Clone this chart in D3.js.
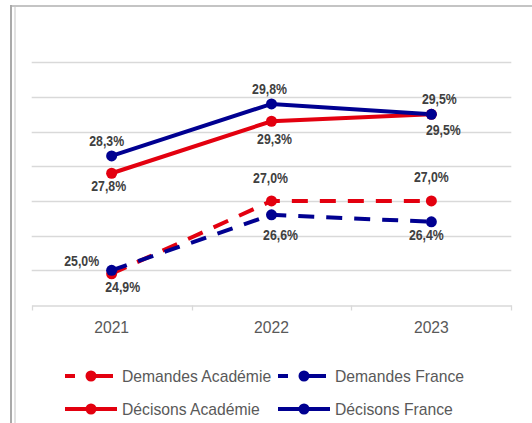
<!DOCTYPE html>
<html>
<head>
<meta charset="utf-8">
<script src="https://cdn.jsdelivr.net/npm/d3@7"></script>
<style>
    body { margin: 0; background: white; }
    svg { display: block; }
    .year-label, .legend-label { font-family: "Liberation Sans", Arial, sans-serif; font-size: 15.7px; fill: #595959; }
    .value-label { font-family: "Liberation Sans Narrow", "Arial Narrow", "Liberation Sans", sans-serif; font-size: 14px; font-weight: bold; fill: #404040; }
</style>
</head>
<body>
<svg id="chart"></svg>
<script>
// --- data ---
const years = ["2021", "2022", "2023"];
const demandesAcademie = [24.9, 27.0, 27.0];
const demandesFrance = [25.0, 26.6, 26.4];
const decisionsAcademie = [27.8, 29.3, 29.5];
const decisionsFrance = [28.3, 29.8, 29.5];
const yTicks = [25, 26, 27, 28, 29, 30, 31];

// label nudges (dx, dy from the point), hand placed like in the original
const labelNudges = {
    demandesAcademie: [[11, 13], [-1, -23], [0, -24]],
    demandesFrance: [[-30, -9], [9, 20], [-5, 13]],
    decisionsAcademie: [[-3, 13], [3, 18], [12, 16]],
    decisionsFrance: [[-5, -15], [-2, -15], [8, -15]]
};

const red = "#e3000f";
const navy = "#000091";

const series = [
    { key: "demandesAcademie", name: "Demandes Académie", values: demandesAcademie, color: red, dashed: true },
    { key: "demandesFrance", name: "Demandes France", values: demandesFrance, color: navy, dashed: true },
    { key: "decisionsAcademie", name: "Décisons Académie", values: decisionsAcademie, color: red, dashed: false },
    { key: "decisionsFrance", name: "Décisons France", values: decisionsFrance, color: navy, dashed: false }
];

const width = 532, height = 423;
const svg = d3.select("#chart").attr("width", width).attr("height", height);

svg.append("rect").attr("width", width).attr("height", height).attr("fill", "white");

// frame
svg.append("line").attr("x1", 10).attr("x2", width).attr("y1", 6).attr("y2", 6)
    .attr("stroke", "#c4c4c4").attr("stroke-width", 2);
svg.append("line").attr("x1", 11).attr("x2", 11).attr("y1", 5).attr("y2", height)
    .attr("stroke", "#aaaaaa").attr("stroke-width", 2);
svg.append("line").attr("x1", 15).attr("x2", 15).attr("y1", 7).attr("y2", height)
    .attr("stroke", "#e2e2e2").attr("stroke-width", 2);

// scales
const x = d3.scaleBand().domain(years).range([31.7, 511.3]);
const y = d3.scaleLinear().domain([24, 31]).range([305, 62.3]);
const cx = d => x(d) + x.bandwidth() / 2;

// gridlines
svg.selectAll(".grid-line")
    .data(yTicks)
    .enter()
    .append("line")
    .attr("class", "grid-line")
    .attr("x1", x.range()[0])
    .attr("x2", x.range()[1])
    .attr("y1", d => Math.round(y(d)) + 0.5)
    .attr("y2", d => Math.round(y(d)) + 0.5)
    .attr("stroke", "#d9d9d9")
    .attr("stroke-width", 1.3);

// x axis
const xAxis = d3.axisBottom(x).tickSize(0).tickFormat(d => d);
const gx = svg.append("g")
    .attr("transform", `translate(0, ${Math.round(y(24)) + 0.5})`)
    .call(xAxis);
gx.select(".domain").attr("stroke", "#d9d9d9").attr("stroke-width", 1.3);
gx.selectAll(".tick text")
    .attr("class", "year-label")
    .attr("y", 22)
    .attr("dy", "0.35em")
    .attr("fill", null);
// band boundary ticks
const bounds = years.map(d => x(d)).concat([x.range()[1]]);
gx.selectAll(".band-tick")
    .data(bounds)
    .enter()
    .append("line")
    .attr("class", "band-tick")
    .attr("x1", d => Math.round(d) + 0.5)
    .attr("x2", d => Math.round(d) + 0.5)
    .attr("y1", 0)
    .attr("y2", 5)
    .attr("stroke", "#d9d9d9")
    .attr("stroke-width", 1.3);

// lines
const line = d3.line()
    .x((d, i) => cx(years[i]))
    .y(d => y(d));

series.forEach(s => {
    svg.append("path")
        .datum(s.values)
        .attr("fill", "none")
        .attr("stroke", s.color)
        .attr("stroke-width", 4)
        .attr("stroke-dasharray", s.dashed ? "16,12" : null)
        .attr("d", line);
});

series.forEach(s => {
    svg.selectAll(null)
        .data(s.values)
        .enter()
        .append("circle")
        .attr("cx", (d, i) => cx(years[i]))
        .attr("cy", d => y(d))
        .attr("r", 5.5)
        .attr("fill", s.color);
});

// value labels (narrowed to look like Arial Narrow)
const fmt = v => d3.format(".1f")(v).replace(".", ",") + "%";
series.forEach(s => {
    svg.selectAll(null)
        .data(s.values)
        .enter()
        .append("text")
        .attr("class", "value-label")
        .attr("transform", (d, i) =>
            `translate(${cx(years[i]) + labelNudges[s.key][i][0]}, ${y(d) + labelNudges[s.key][i][1]}) scale(0.88, 1)`)
        .attr("text-anchor", "middle")
        .attr("dominant-baseline", "central")
        .text(fmt);
});

// legend
const legendCols = [65, 278];
const legendRows = [376, 409];
series.forEach((s, i) => {
    const lx = legendCols[i % 2];
    const ly = legendRows[Math.floor(i / 2)];
    const g = svg.append("g").attr("transform", `translate(${lx}, ${ly})`);
    const len = s.dashed ? 48 : 52;
    g.append("line")
        .attr("x1", 0).attr("x2", len)
        .attr("y1", 0).attr("y2", 0)
        .attr("stroke", s.color)
        .attr("stroke-width", 4)
        .attr("stroke-dasharray", s.dashed ? "10,11,27" : null);
    g.append("circle").attr("cx", 26).attr("cy", 0).attr("r", 5.5).attr("fill", s.color);
    g.append("text")
        .attr("class", "legend-label")
        .attr("x", 57)
        .attr("y", 0)
        .attr("dy", "0.35em")
        .text(s.name);
});
</script>
</body>
</html>
